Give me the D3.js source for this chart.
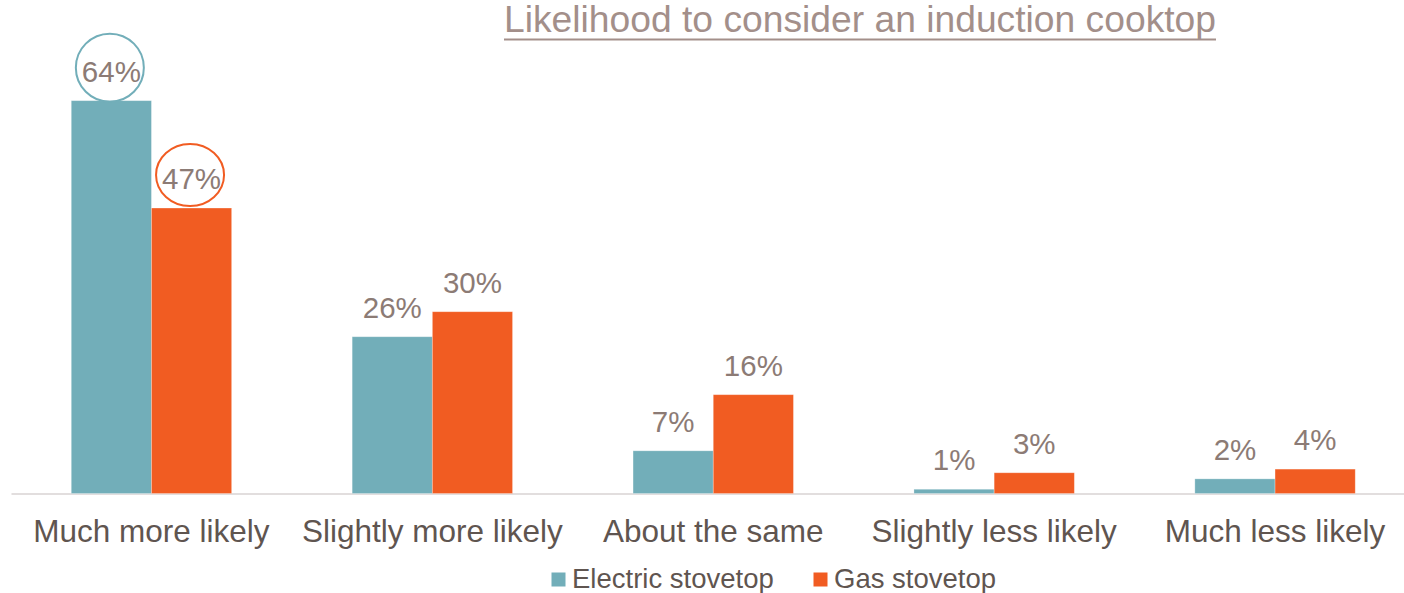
<!DOCTYPE html>
<html><head><meta charset="utf-8">
<script src="https://cdn.jsdelivr.net/npm/d3@7"></script>
<style>
html,body{margin:0;padding:0;background:#fff;}
svg{display:block;font-family:"Liberation Sans",Arial,sans-serif;}
</style></head>
<body>
<svg id="chart" width="1404" height="593"></svg>
<script>
const title = "Likelihood to consider an induction cooktop";
const categories = ["Much more likely","Slightly more likely","About the same","Slightly less likely","Much less likely"];
const seriesNames = ["Electric stovetop","Gas stovetop"];
const seriesColors = ["#72aeb9","#f15c22"];
const electric = [64.4, 25.7, 7.0, 0.7, 2.4];
const gas = [46.8, 29.8, 16.2, 3.4, 4.0];
const labelsElectric = ["64%","26%","7%","1%","2%"];
const labelsGas = ["47%","30%","16%","3%","4%"];
const highlighted = [[0,0],[0,1]]; // [category index, series index]

const svg = d3.select("#chart");
const baseY = 493.5;
const x = d3.scaleBand().domain(categories).range([11, 1415.5]).paddingInner(0.429).paddingOuter(0.2145);
const xs = d3.scaleBand().domain(seriesNames).range([0, x.bandwidth()]);
const y = d3.scaleLinear().domain([0, 70]).range([baseY, baseY - 427]);

const seriesVals = [electric, gas];
const seriesLabels = [labelsElectric, labelsGas];

// axis
const axis = svg.append("g").attr("transform", `translate(0,${baseY})`)
  .call(d3.axisBottom(x).tickSize(0).tickPadding(0));
axis.select(".domain").attr("stroke", "#e2dede").attr("stroke-width", 2);
axis.selectAll(".tick text").remove();

// category labels
svg.append("g").selectAll("text").data(categories).join("text")
  .attr("x", d => x(d) + x.bandwidth()/2)
  .attr("y", 542)
  .attr("text-anchor", "middle")
  .attr("fill", "#5f5550")
  .style("font-size", "31.5px")
  .text(d => d);

// bars
const flat = [];
categories.forEach((c, i) => seriesNames.forEach((s, j) => flat.push({c, s, i, j, v: seriesVals[j][i], lab: seriesLabels[j][i]})));

svg.append("g").selectAll("rect").data(flat).join("rect")
  .attr("x", d => x(d.c) + xs(d.s))
  .attr("width", xs.bandwidth())
  .attr("y", d => y(d.v))
  .attr("height", d => y(0) - y(d.v))
  .attr("fill", d => seriesColors[d.j])
  .attr("stroke", "#ffffff").attr("stroke-opacity", 0.35).attr("stroke-width", 0.8);

// value labels
svg.append("g").selectAll("text").data(flat).join("text")
  .attr("x", d => x(d.c) + xs(d.s) + xs.bandwidth()/2)
  .attr("y", d => y(d.v) - 19)
  .attr("text-anchor", "middle")
  .attr("fill", "#8c7b75")
  .style("font-size", "29.5px")
  .text(d => d.lab);

// highlight circles
svg.append("g").selectAll("ellipse").data(highlighted).join("ellipse")
  .attr("cx", d => x(categories[d[0]]) + xs(seriesNames[d[1]]) + xs.bandwidth()/2 - 1.5)
  .attr("cy", d => y(seriesVals[d[1]][d[0]]) - 19 - 14)
  .attr("rx", 34)
  .attr("ry", d => d[1] === 0 ? 34 : 31)
  .attr("fill", "none")
  .attr("stroke", d => seriesColors[d[1]])
  .attr("stroke-width", 2);

// title
svg.append("text")
  .attr("x", 504).attr("y", 32)
  .attr("fill", "#a38f8a")
  .style("font-size", "36px")
  .attr("textLength", 712)
  .attr("lengthAdjust", "spacingAndGlyphs")
  .text(title);
svg.append("line").attr("x1", 504).attr("x2", 1216).attr("y1", 39.5).attr("y2", 39.5)
  .attr("stroke", "#a38f8a").attr("stroke-width", 2);

// legend
const legendX = [551.5, 813.5];
const lg = svg.append("g").selectAll("g").data(seriesNames).join("g")
  .attr("transform", (d, i) => `translate(${legendX[i]},572.5)`);
lg.append("rect").attr("width", 14).attr("height", 14).attr("fill", (d, i) => seriesColors[i]);
lg.append("text").attr("x", 20.5).attr("y", 15.5).attr("fill", "#5f5550")
  .style("font-size", "27.5px").text(d => d);
</script>
</body></html>
